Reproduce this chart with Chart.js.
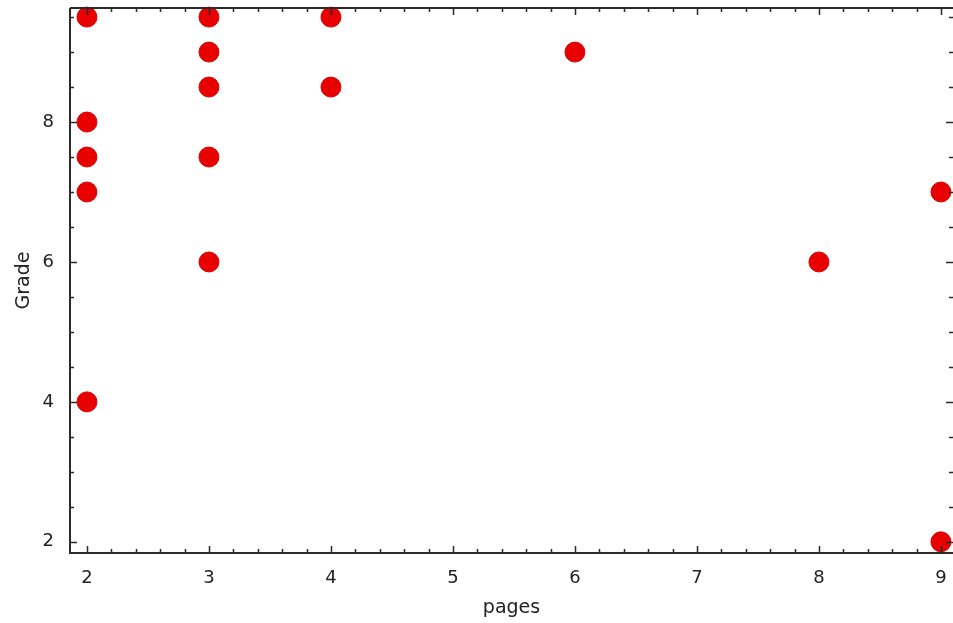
<!DOCTYPE html>
<html lang="en">
<head>
    <meta charset="UTF-8">
    <script src="https://cdn.jsdelivr.net/npm/chart.js"></script>
    <title>Grade vs pages</title>
    <style>
        body { margin: 0; background: #fff; }
        canvas { display: block; }
    </style>
</head>
<body>
    <canvas id="grafico" width="953" height="623"></canvas>

    <script>
        // data
        const pages = [2, 2, 2, 2, 2, 3, 3, 3, 3, 3, 4, 4, 6, 8, 9, 9];
        const grades = [9.5, 8, 7.5, 7, 4, 9.5, 9, 8.5, 7.5, 6, 9.5, 8.5, 9, 6, 7, 2];

        const xTicks = [2, 3, 4, 5, 6, 7, 8, 9];
        const yTicks = [2, 4, 6, 8];
        const xMinorStep = 0.2;
        const yMinorStep = 0.5;

        const axisColor = '#2a2a2a';

        // inward ticks on all four sides, drawn on top of the points like the original
        const frameTicks = {
            id: 'frameTicks',
            afterDatasetsDraw(chart) {
                const ctx = chart.ctx;
                const area = chart.chartArea;
                const xs = chart.scales.x;
                const ys = chart.scales.y;
                const right = chart.width;
                ctx.save();
                ctx.strokeStyle = axisColor;

                ctx.lineWidth = 1.5;
                // x ticks
                for (let v = Math.ceil(xs.min / xMinorStep) * xMinorStep; v <= xs.max + 1e-9; v += xMinorStep) {
                    const major = xTicks.some(t => Math.abs(t - v) < 1e-6);
                    const len = major ? 7 : 4;
                    const px = Math.round(xs.getPixelForValue(v)) + 0.5;
                    ctx.beginPath();
                    ctx.moveTo(px, area.bottom); ctx.lineTo(px, area.bottom - len);
                    ctx.moveTo(px, area.top); ctx.lineTo(px, area.top + len);
                    ctx.stroke();
                }
                // y ticks
                for (let v = Math.ceil(ys.min / yMinorStep) * yMinorStep; v <= ys.max + 1e-9; v += yMinorStep) {
                    const major = yTicks.some(t => Math.abs(t - v) < 1e-6);
                    const len = major ? 7 : 4;
                    const py = Math.round(ys.getPixelForValue(v)) + 0.5;
                    ctx.beginPath();
                    ctx.moveTo(area.left, py); ctx.lineTo(area.left + len, py);
                    ctx.moveTo(right, py); ctx.lineTo(right - len, py);
                    ctx.stroke();
                }

                // frame
                ctx.lineWidth = 2;
                ctx.beginPath();
                ctx.moveTo(area.left, area.top);
                ctx.lineTo(right, area.top);
                ctx.moveTo(area.left, area.top);
                ctx.lineTo(area.left, area.bottom);
                ctx.lineTo(right, area.bottom);
                ctx.stroke();
                ctx.restore();
            }
        };

        const tickFont = { family: 'DejaVu Sans', size: 18 };
        const titleFont = { family: 'DejaVu Sans', size: 19 };

        new Chart(document.getElementById('grafico'), {
            type: 'scatter',
            data: {
                datasets: [{
                    data: pages.map((p, i) => ({ x: p, y: grades[i] })),
                    backgroundColor: 'rgb(232, 0, 0)',
                    borderColor: 'rgb(220, 0, 0)',
                    borderWidth: 1,
                    pointRadius: 10,
                    pointHoverRadius: 10,
                    clip: false
                }]
            },
            options: {
                responsive: false,
                animation: false,
                events: [],
                layout: { autoPadding: false, padding: { top: 8, left: 0, right: 0, bottom: 0 } },
                plugins: {
                    legend: { display: false },
                    tooltip: { enabled: false }
                },
                scales: {
                    x: {
                        type: 'linear',
                        min: 1.861,
                        max: 9.099,
                        afterBuildTicks: s => { s.ticks = xTicks.map(v => ({ value: v })); },
                        afterFit: s => { s.height = 70; s.paddingLeft = 0; s.paddingRight = 0; },
                        grid: { display: false },
                        border: { display: false },
                        ticks: { color: '#222', font: tickFont, padding: 7, maxRotation: 0 },
                        title: { display: true, text: 'pages', color: '#222', font: titleFont, padding: { top: 0, bottom: 4 } }
                    },
                    y: {
                        type: 'linear',
                        min: 1.84,
                        max: 9.63,
                        afterBuildTicks: s => { s.ticks = yTicks.map(v => ({ value: v })); },
                        afterFit: s => { s.width = 70; s.paddingTop = 0; s.paddingBottom = 0; },
                        grid: { display: false },
                        border: { display: false },
                        ticks: { color: '#222', font: tickFont, padding: 8 },
                        title: { display: true, text: 'Grade', color: '#222', font: titleFont, padding: { top: 13, bottom: 0 } }
                    }
                }
            },
            plugins: [frameTicks]
        });
    </script>
</body>
</html>
